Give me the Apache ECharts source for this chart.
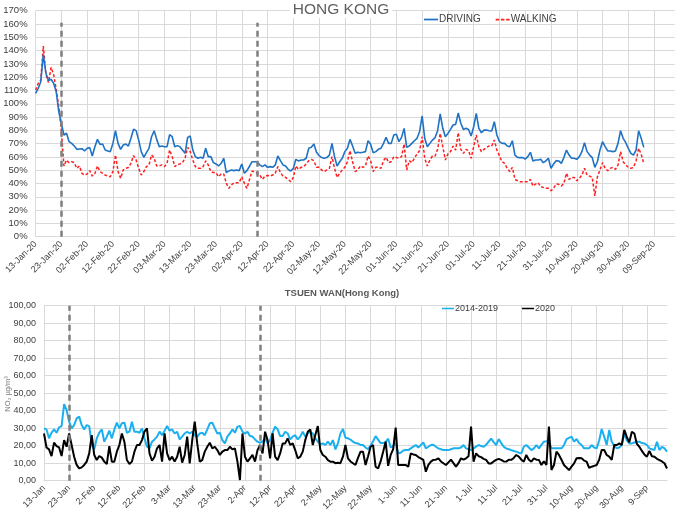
<!DOCTYPE html>
<html><head><meta charset="utf-8">
<script src="https://cdn.jsdelivr.net/npm/echarts@6/dist/echarts.min.js"></script>
<style>html,body{margin:0;padding:0;background:#fff}#c{width:676px;height:515px}</style>
</head><body><div id="c"></div>
<script>
// ---- data ----
const START_DATE = '2020-01-13';
const N_DAYS = 249; // 13-Jan .. 17-Sep (axis span)
const MONTHS = ['Jan','Feb','Mar','Apr','May','Jun','Jul','Aug','Sep','Oct','Nov','Dec'];
const LOCKDOWN_DAYS = [10, 86]; // 23-Jan, 08-Apr (indices on the date axis)

const DRIVING = [
107.8,111.6,116.6,137,123,117.4,118.4,115.4,109,94,
85,76.5,77.8,71.5,70.2,68.2,65.7,66,66.2,64.5,
66.5,67,60.7,67.7,73.2,69.4,69.7,65.2,64.5,64,
70.2,79.7,70.2,65.7,69,69.7,68.2,74,80.8,79.8,
72.7,64,59.7,63.2,66.5,75.2,79.7,73.2,67.7,68.2,
67.7,67.7,76.7,75.2,67.7,68.5,67.7,65.2,62.7,74.7,
75.7,65.2,60.2,59,59.7,59,66.5,60.2,60.2,55.7,
54.7,53.2,55.2,59,48.2,49.5,50.2,49.7,50.2,49.7,
54.7,47.7,49.7,53,56.4,56.4,56.4,54,52.7,54,
52.2,52.7,52.2,54,60.7,57.2,54,53.2,50.7,49.4,
51.4,58.2,57,57.7,57.7,59,66.5,67.2,69.7,63.5,
61,59.5,59,59.5,61.4,70.2,60.2,53.2,56.4,59,
64,66.5,73.2,68.2,62.7,63.5,63.2,63.5,64,72.2,
69.5,63.2,64,65.7,66.5,70.2,74.7,70.2,70.2,76.5,
77,71.5,74.7,81.5,67.2,68.2,70.2,72.2,74,79,
90.8,74,67.7,70.2,72.7,74.5,79.7,92.3,81.5,75.2,
77.7,80.7,84,84.5,93,85.3,80.7,81.5,80.7,75.7,
82.7,92.8,81.5,78.2,80.2,80.2,79.7,79.5,86.5,76.5,
71.5,70.2,70.2,68.2,67.7,72.2,61.4,59.7,59.5,59.5,
58.4,60.2,63.5,57,57.7,57.7,58.2,55.7,57,59,
51.4,54.7,57.2,57,55.2,59.5,65.2,61.4,59,59,
58.2,60.2,64,70.7,64,61.4,59.5,52.2,56.4,65.2,
71.5,67.7,64.5,64.5,64,64.5,70.2,79.7,74,70.7,
66.5,62.7,61.4,65.2,79.7,74,67.2];

const WALKING = [
110.3,115.3,117.8,143.4,122,116,127.4,122,111,97.8,
80,53.2,57.7,55.7,56.4,55.7,51.4,53.2,47.6,46.4,
47.2,49.7,45.6,47.6,53.2,49,47.6,46.4,45.6,45.1,
49,61.5,49,43.9,50.2,51.4,52,55.2,61,57.7,
51.4,46.4,49,52.7,54,61.5,59,53.2,53.2,54,
52.7,55.2,65.2,60.2,52.7,54.4,54.7,55.7,59,67.2,
64,57.7,52.7,51.4,51.4,52.7,57,54,49,48.2,
48.2,45.1,47.2,47.2,40.2,36.4,39,40.6,40.6,40.6,
45.1,40.2,36.4,43,49.4,48.6,47.7,46.4,43.1,45.6,
46.1,45.6,46.4,47.7,52.7,48.2,45.6,44.6,43.1,41.4,
44.6,53.2,50.7,52.2,52.7,54.7,57.2,58.2,57.2,52.2,
52.2,50.2,49,50.2,51.4,60.2,51.4,44.6,47.7,50.2,
52.2,56.4,64.7,56.4,49,50.2,53.2,52.2,53.2,60.7,
57.2,49,52.2,52.2,51.4,57.2,59.7,55.7,56.4,60.2,
59.5,59,60.2,69.7,50.2,57.2,55.7,59,62.2,64.7,
75.2,59,53.2,57.7,60.7,60.7,65.7,77.7,67.7,57.7,
62.2,64,68.2,65.2,78.2,65.7,62.7,65.7,64.7,59,
67.7,76.5,67.7,64,65.7,67.2,68.2,68.2,72.7,65.2,
60.7,56.4,55.2,51.4,49,52.2,43.1,42.1,41.4,41.4,
41.4,41.4,43.1,38.1,39.6,40.6,37.6,37.1,36.4,36.4,
34.6,36.4,39.6,39.4,38.1,40.1,47.7,43.1,44.6,44.6,
42.1,43.9,46.4,51.4,46.4,45.6,44.6,30.6,45,50.2,
55.7,51.4,49.6,51.4,52.2,50.7,53.9,64,56.4,54,
52.2,51.4,52.2,57,66.5,62,55.2];

const NO2_2014_2019 = [
29.9,29.3,24.2,27.4,29.3,27.4,30.5,31.2,43.8,40.4,
33.7,29.9,31.8,35.6,36.6,31.8,29.3,31.8,31.2,20.4,
17.9,24.2,27.4,29.3,22.3,25.2,28.6,24.2,29.3,33.2,
29.9,32.8,33.2,27.4,28,33.7,28,28,27.4,29.9,
24.2,19.4,18.5,22.3,23.6,25.2,28,26,28.6,31.2,
28.6,29.3,27,28,23.6,25.2,27,28,27,28,
26,25.2,27,27.4,26,29.3,32.8,33.2,29.9,27,
27.4,23.2,21.3,25.2,27,29.3,27.4,30.9,31.2,28,
27,28,25.5,25.2,23.6,22.3,21.7,22.3,24.2,21.3,
23.2,27.4,30.9,29.3,25.5,25.5,28,27,23.6,25.2,
26,23.6,25.2,28,25.2,27,28,27,24.2,22.3,
20.9,21.3,20.4,22.3,20.4,23.2,17.9,21.3,27,29.5,
24.5,24.2,23.5,22.3,21.5,21.3,20.4,20.4,19,18,
20,22.5,25.5,23.5,21.5,21.5,22,24,19,20,
21.5,15.6,16,17.2,17.5,17.5,18.5,19.5,20.4,19,
20.4,21.9,18.5,19.4,20.4,20.6,19.4,18.5,18,17.5,
17.5,17.5,18,18.5,18.5,18.5,19,20.4,18.5,18,
17.5,18.5,19.5,20.4,19.8,19.4,20.5,22.3,24,22,
20.4,23.8,21.5,19.4,18.5,18,17.5,17,16.6,16,
15.6,19.4,20.4,19,17.5,18.5,20.4,18.5,20.5,22.3,
22.5,22.8,18.5,18.5,18.5,18.5,18.5,20.4,23.8,24.5,
25.2,22.3,23.8,21.5,20.4,18.5,18.5,18.5,20.4,19,
18.5,23,29.5,25.2,20.4,29,22.3,20,18.5,19,
20.4,27,23,21.3,21.3,21.8,22.3,22.3,21.5,21.3,
20.4,18.5,18,17.5,22.3,17.5,19.4,18.5,16.6];

const NO2_2020 = [
27,19,17.9,14.1,21.7,19.8,19,14.1,23.2,19.4,
27,20.4,13.7,9,7,7.6,9,10.9,15.6,26.1,
14.7,11.8,14.1,13.2,10.9,9.5,19.8,10.9,10.9,16.6,
20.4,27,22.3,11.8,9.5,10.9,16.6,20.4,20.4,23.2,
28,29.9,15.6,11.4,13.7,18.5,20.4,10.9,27,15.6,
11.8,13.7,10.9,13.7,19.4,10.3,14.7,25.2,9.9,23.2,
33.7,21.3,10.9,11.8,16.6,19.4,21.7,18.5,19.4,17.5,
14.7,16.6,17.5,17.5,19.4,17.9,18.5,10.9,0.4,27,
13.7,10.9,12.8,14.7,10.9,17.5,20.4,15.6,28,23.2,
12.8,27,13.7,11.8,15.6,21.3,21.3,24.2,20.4,21.3,
17.5,12.8,13.7,16.6,23.2,28,29.3,20.4,26.1,31.2,
17.5,14.7,13.7,11.8,10.9,10.9,10,10.3,10,13.7,
20.4,12.8,11,10,9,13,16.6,16.6,9,14,
19.4,20.4,8,7,11,16.6,22.3,8.5,14.7,18,
30.3,9,9,9,9,8,15.6,15,14.7,13.5,
12.8,11.9,5.1,9,10.9,11.9,12,12.8,11,10,
9,10.5,12,10,8,10,12.8,12,12.8,14,
30.9,10.9,15.6,14,13.5,12.5,11.9,9.9,9.9,11,
11.9,12.5,11.9,11,10.9,12,11.9,13,14.7,13.8,
12,10.9,14.7,12,10.9,12.8,12,11.9,9,11,
9,30.9,6.1,9,16.6,14.7,12,9,7.5,6.1,
8,9.9,12.8,13,12.8,11.5,10.9,7.4,8,8.5,
9,12,17.5,17.5,14.7,13.8,11.9,20.4,20.4,21.3,
20.4,29,25,22,28,27,21,19.4,17,15,
13.7,17,14,13.7,12.5,11.8,11,10,7];

// ---- axis categories ----
const t0 = Date.UTC(2020,0,13);
const topCats = [], botCats = [];
for (let i = 0; i < N_DAYS; i++) {
  const d = new Date(t0 + i*86400000);
  const dd = d.getUTCDate(), mm = MONTHS[d.getUTCMonth()];
  topCats.push((dd<10?'0':'') + dd + '-' + mm + '-20');
  botCats.push(dd + '-' + mm);
}

const FONT = 'Liberation Sans, Arial, Helvetica, sans-serif';
const GRID_C = '#d9d9d9';
const LBL_C = '#404040';
const ICON_SOLID = 'path://M0,0h16v2h-16z';
const ICON_DASH = 'path://M0,0h4v2h-4z M6,0h4v2h-4z M12,0h4v2h-4z';

function vline(cats, idx, y0, y1) {
  return [{coord:[cats[idx], y0]}, {coord:[cats[idx], y1]}];
}
const markStyle = (cats, y0, y1) => ({
  silent: true, symbol: ['none','none'], label: {show:false},
  lineStyle: {color:'#7f7f7f', type:[6,4], width:2.5},
  data: LOCKDOWN_DAYS.map(i => vline(cats, i, y0, y1))
});

const chart = echarts.init(document.getElementById('c'), null, {renderer:'canvas'});
chart.setOption({
  animation: false,
  textStyle: {fontFamily: FONT},
  graphic: [
    {type:'text', x:341, y:1, z:100, style:{text:'HONG KONG', fontSize:15.5, fill:'#606060', fontFamily:FONT,
     textAlign:'center', backgroundColor:'#ffffff', padding:[1,3,0,3]}},
    {type:'text', x:342, y:288, z:100, style:{text:'TSUEN WAN(Hong Kong)', fontSize:9.5, fontWeight:'bold', fill:'#595959', fontFamily:FONT, textAlign:'center'}},
    {type:'text', x:8, y:394, rotation:Math.PI/2,
     style:{text:'NO\u2082 \u00b5g/m\u00b3', fontSize:7.5, fill:'#7f7f7f', fontFamily:FONT, textAlign:'center', textVerticalAlign:'middle'}}
  ],
  legend: [
    {data:[{name:'DRIVING', icon:ICON_SOLID},{name:'WALKING', icon:ICON_DASH}],
     left:419, top:9.5, itemWidth:14, itemHeight:2, itemGap:15,
     textStyle:{fontSize:10, color:LBL_C, fontFamily:FONT, padding:[0,0,0,-4]}},
    {data:[{name:'2014-2019', icon:ICON_SOLID},{name:'2020', icon:ICON_SOLID}],
     left:437, top:299, itemWidth:12, itemHeight:2, itemGap:24,
     textStyle:{fontSize:9, color:LBL_C, fontFamily:FONT, padding:[0,0,0,-4]}}
  ],
  grid: [
    {left:35.6, top:10.7, right:1.3, bottom:278.3, containLabel:false, outerBoundsMode:'none'},
    {left:44, top:305.7, right:9, bottom:34.3, containLabel:false, outerBoundsMode:'none'}
  ],
  xAxis: [
    {gridIndex:0, type:'category', boundaryGap:false, data:topCats,
     axisTick:{show:false}, axisLine:{lineStyle:{color:GRID_C}},
     axisLabel:{interval:9, rotate:45, fontSize:9, color:LBL_C, margin:6, fontFamily:FONT},
     splitLine:{show:true, interval:9, lineStyle:{color:GRID_C, width:1}}},
    {gridIndex:1, type:'category', boundaryGap:false, data:botCats,
     axisTick:{show:false}, axisLine:{lineStyle:{color:GRID_C}},
     axisLabel:{interval:9, rotate:45, fontSize:9, color:LBL_C, margin:6, fontFamily:FONT},
     splitLine:{show:true, interval:9, lineStyle:{color:GRID_C, width:1}}}
  ],
  yAxis: [
    {gridIndex:0, type:'value', min:0, max:170, interval:10,
     axisLine:{show:false}, axisTick:{show:false},
     axisLabel:{formatter:'{value}%', fontSize:9.5, color:LBL_C, margin:8, fontFamily:FONT},
     splitLine:{lineStyle:{color:GRID_C, width:1}}},
    {gridIndex:1, type:'value', min:0, max:100, interval:10,
     axisLine:{show:false}, axisTick:{show:false},
     axisLabel:{formatter:v => v.toFixed(2).replace('.', ','), fontSize:9, color:LBL_C, margin:8, fontFamily:FONT},
     splitLine:{lineStyle:{color:GRID_C, width:1}}}
  ],
  series: [
    {name:'DRIVING', type:'line', xAxisIndex:0, yAxisIndex:0, data:DRIVING, symbol:'none',
     color:'#1f72c4', lineStyle:{width:1.6, color:'#1f72c4'}, z:3,
     markLine: markStyle(topCats, 0, 161)},
    {name:'WALKING', type:'line', xAxisIndex:0, yAxisIndex:0, data:WALKING, symbol:'none',
     color:'#ff1f1f', lineStyle:{width:1.5, color:'#ff1f1f', type:[3,2]}, z:2},
    {name:'2014-2019', type:'line', xAxisIndex:1, yAxisIndex:1, data:NO2_2014_2019, symbol:'none',
     color:'#1ab0f0', lineStyle:{width:2, color:'#1ab0f0'}, z:2,
     markLine: markStyle(botCats, 0, 100)},
    {name:'2020', type:'line', xAxisIndex:1, yAxisIndex:1, data:NO2_2020, symbol:'none',
     color:'#000000', lineStyle:{width:2, color:'#000000'}, z:3}
  ]
});
</script></body></html>
